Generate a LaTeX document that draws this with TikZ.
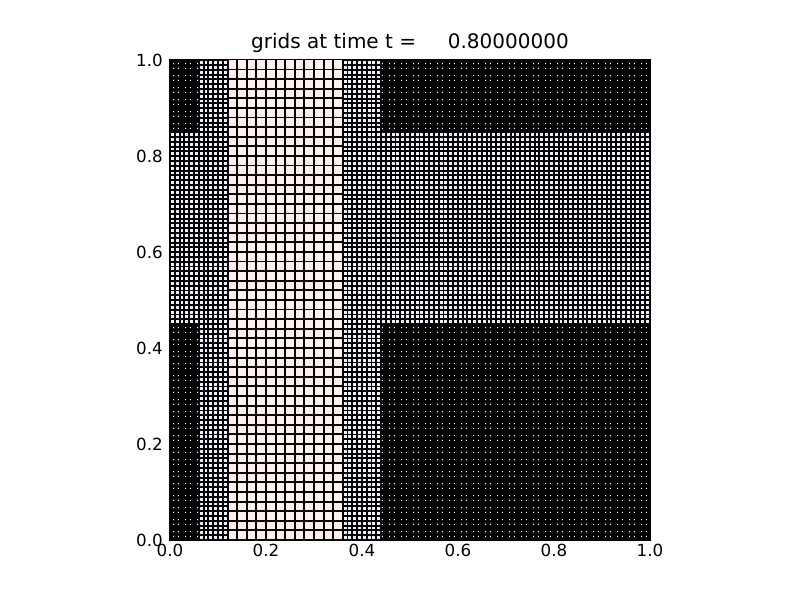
\documentclass[tikz,border=0pt]{standalone}
\usepackage{fontspec}
\setmainfont{DejaVu Sans}
\definecolor{lvlone}{RGB}{255,238,238}
\definecolor{lvltwo}{RGB}{240,240,255}

% white gaps left in the finest grid, one 2x2 group per 0.025 block
\newcommand{\gapdots}[4]{%
  \fill[gapdot] \foreach \k in {#1,...,#2} {\foreach \m in {#3,...,#4} {
    ({0.025*\k+0.0065},{0.025*\m+0.0065}) rectangle ++(0.0022,0.0022)
    ({0.025*\k+0.0165},{0.025*\m+0.0065}) rectangle ++(0.0022,0.0022)
    ({0.025*\k+0.0065},{0.025*\m+0.0165}) rectangle ++(0.0022,0.0022)
    ({0.025*\k+0.0165},{0.025*\m+0.0165}) rectangle ++(0.0022,0.0022)
  }};}

\begin{document}
\begin{tikzpicture}[
  x=480bp, y=480bp,
  gridline/.style={draw=black, line width=1.9bp},
  lone/.style={fill=lvlone},
  ltwo/.style={fill=lvltwo},
  lthree/.style={fill=black},
  gapdot/.style={fill=white},
  tick/.style={draw=black, line width=0.8bp},
  ticklbl/.style={font=\fontsize{16.7bp}{20bp}\selectfont, inner sep=0pt},
  ttl/.style={font=\fontsize{20bp}{24bp}\selectfont, inner sep=0pt}
]
\useasboundingbox[fill=white] (-0.354167,-0.125) rectangle (1.3125,1.125);

% level 1, dx = 0.02
\fill[lone] (0,0) rectangle (1,1);
\draw[gridline, step=0.02] (0,0) grid (1,1);

% level 2 patches, dx = 0.01
\foreach \xa/\xb in {0/0.12, 0.36/1}{
  \fill[ltwo] (\xa,0) rectangle (\xb,1);
  \draw[gridline, step=0.01] (\xa,0) grid (\xb,1);
  \draw[gridline] (\xa,0) rectangle (\xb,1);
}

% level 3 patches, dx = 0.005
\foreach \xa/\ya/\xb/\yb/\ka/\kb/\ma/\mb in
  {0/0/0.06/0.45/0/2/0/17, 0/0.85/0.06/1/0/2/34/39,
   0.44/0/1/0.45/17/39/0/17, 0.44/0.85/1/1/17/39/34/39}{
  \fill[lthree] (\xa,\ya) rectangle (\xb,\yb);
  \draw[gridline, step=0.005] (\xa,\ya) grid (\xb,\yb);
  \begin{scope}
    \clip (\xa,\ya) rectangle (\xb,\yb);
    \gapdots{\ka}{\kb}{\ma}{\mb}
  \end{scope}
}

% frame, ticks and labels
\draw[line width=1bp] (0,0) rectangle (1,1);
\foreach \t/\lbl [count=\i] in {0/0.0, 0.2/0.2, 0.4/0.4, 0.6/0.6, 0.8/0.8, 1/1.0}{
  \draw[tick] (\t,0) -- (\t,0.0116) (\t,1) -- (\t,0.9884);
  \draw[tick] (0,\t) -- (0.0116,\t) (1,\t) -- (0.9884,\t);
  \node[ticklbl, anchor=north] (xl\i) at (\t,-0.0083) {\lbl};
  \node[ticklbl, anchor=east] (yl\i) at (-0.0146,\t) {\lbl};
}

\node[ttl, anchor=base] (title) at (0.5,1.0244) {grids at time t =\ \ \ \ \ 0.80000000};
\end{tikzpicture}
\end{document}
